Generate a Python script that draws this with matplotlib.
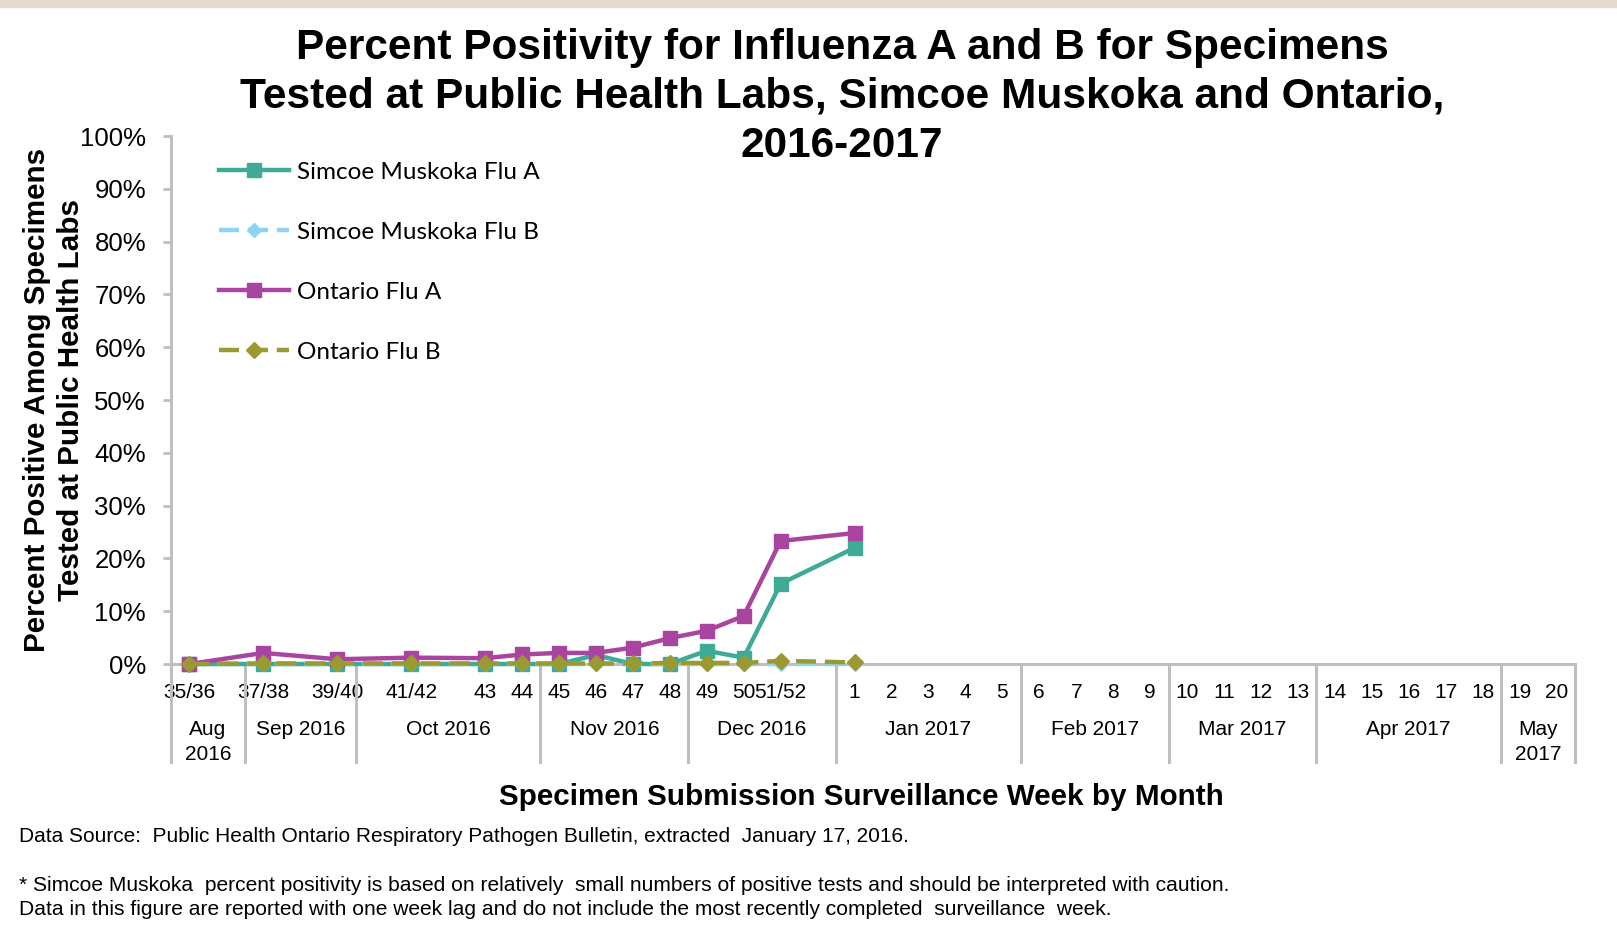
import matplotlib
matplotlib.use("Agg")
import matplotlib.pyplot as plt
from matplotlib.patches import Rectangle
from matplotlib.transforms import blended_transform_factory

plt.rcParams['font.family'] = ['Liberation Sans', 'DejaVu Sans']

# Категорії (тижні) та їхні позиції на осі
week_labels = ["35/36", "37/38", "39/40", "41/42", "43", "44", "45", "46", "47", "48",
               "49", "50", "51/52", "1", "2", "3", "4", "5", "6", "7", "8", "9", "10",
               "11", "12", "13", "14", "15", "16", "17", "18", "19", "20"]
week_slots = [0, 2, 4, 6, 8, 9, 10, 11, 12, 13, 14, 15, 16, 18, 19, 20, 21, 22, 23, 24,
              25, 26, 27, 28, 29, 30, 31, 32, 33, 34, 35, 36, 37]

month_labels = ["Aug\n2016", "Sep 2016", "Oct 2016", "Nov 2016", "Dec 2016",
                "Jan 2017", "Feb 2017", "Mar 2017", "Apr 2017", "May\n2017"]
month_edges = [-0.5, 1.5, 4.5, 9.5, 13.5, 17.5, 22.5, 26.5, 30.5, 35.5, 37.5]

# Дані (відсоток позитивних), лише для перших 14 тижнів
simcoe_a = [0, 0, 0, 0, 0, 0, 0, 1.7, 0, 0, 2.5, 1.2, 15.2, 22.0]
simcoe_b = [0, 0, 0, 0, 0, 0, 0, 0, 0, 0, 0, 0, 0, 0]
ontario_a = [0, 2.1, 0.9, 1.2, 1.1, 1.8, 2.1, 2.1, 3.1, 4.9, 6.3, 9.1, 23.3, 24.8]
ontario_b = [0, 0.1, 0.1, 0.1, 0.1, 0.1, 0.1, 0.1, 0.1, 0.2, 0.2, 0.2, 0.6, 0.3]

y_ticks = [0, 10, 20, 30, 40, 50, 60, 70, 80, 90, 100]

title_lines = ["Percent Positivity for Influenza A and B for Specimens",
               "Tested at Public Health Labs, Simcoe Muskoka and Ontario,",
               "2016-2017"]

W, H = 1617, 946
fig = plt.figure(figsize=(W / 100, H / 100), dpi=100)
fig.patches.append(Rectangle((0, 1 - 7 / H), 1, 7 / H, transform=fig.transFigure,
                             color="#e4d9cc", zorder=0))

ax = fig.add_axes([171 / W, 1 - 664 / H, (1575 - 171) / W, (664 - 136) / H])

gray = "#bfbfbf"
xs = week_slots[:len(simcoe_a)]
ax.plot(xs, simcoe_a, color="#3fab97", lw=3.2, marker="s", ms=9.5,
        label="Simcoe Muskoka Flu A", clip_on=False, zorder=3)
ax.plot(xs, simcoe_b, color="#8ed3f0", lw=3.2, ls=(0, (4.5, 2)), marker="D", ms=7.5,
        label="Simcoe Muskoka Flu B", clip_on=False, zorder=3)
ax.plot(xs, ontario_a, color="#a9449f", lw=3.2, marker="s", ms=9.5,
        label="Ontario Flu A", clip_on=False, zorder=3)
ax.plot(xs, ontario_b, color="#9a9a30", lw=3.2, ls=(0, (4.5, 2)), marker="D", ms=8.5,
        label="Ontario Flu B", clip_on=False, zorder=3)

ax.set_xlim(-0.5, 37.5)
ax.set_ylim(0, 100)
ax.set_yticks(y_ticks)
ax.set_yticklabels([f"{v}%" for v in y_ticks], fontsize=18.5)
ax.set_xticks(week_slots)
ax.set_xticklabels(week_labels, fontsize=15)
ax.tick_params(axis="x", length=0, pad=14)
ax.tick_params(axis="y", length=6, width=2, color=gray, pad=12)

for s in ["top", "right"]:
    ax.spines[s].set_visible(False)
for s in ["left", "bottom"]:
    ax.spines[s].set_color(gray)
    ax.spines[s].set_linewidth(2.2)

# Роздільники місяців та підписи місяців
trans = blended_transform_factory(ax.transData, ax.transAxes)
span = 664 - 136
for e in month_edges:
    ax.plot([e, e], [0, -(762 - 664) / span], transform=trans, color=gray, lw=2.2,
            clip_on=False)
for i, lab in enumerate(month_labels):
    c = (month_edges[i] + month_edges[i + 1]) / 2
    ax.text(c, -(720 - 664) / span, lab, transform=trans, ha="center", va="top",
            fontsize=15, linespacing=1.4)

leg = ax.legend(loc="upper left", bbox_to_anchor=(197 / W, 1 - 140 / H),
                bbox_transform=fig.transFigure, frameon=False, handlelength=2.9,
                labelspacing=1.6, handletextpad=0.3, prop={"family": "Lato", "size": 17.5})

for line, yb in zip(title_lines, [59, 108, 157]):
    fig.text(842 / W, 1 - yb / H, line, ha="center", va="baseline",
             fontsize=30.5, weight="bold")

fig.text(54 / W, 1 - 400 / H, "Percent Positive Among Specimens\nTested at Public Health Labs",
         rotation=90, ha="center", va="center", fontsize=21.3, weight="bold", linespacing=1.25)

fig.text(861 / W, 1 - 797 / H, "Specimen Submission Surveillance Week by Month",
         ha="center", va="center", fontsize=21.3, weight="bold")

fig.text(19 / W, 1 - 836 / H,
         "Data Source:  Public Health Ontario Respiratory Pathogen Bulletin, extracted  January 17, 2016.",
         ha="left", va="center", fontsize=15)
fig.text(19 / W, 1 - 885 / H,
         "* Simcoe Muskoka  percent positivity is based on relatively  small numbers of positive tests and should be interpreted with caution.",
         ha="left", va="center", fontsize=15.1)
fig.text(19 / W, 1 - 909 / H,
         "Data in this figure are reported with one week lag and do not include the most recently completed  surveillance  week.",
         ha="left", va="center", fontsize=15.1)

fig.savefig("out.png", dpi=100)
